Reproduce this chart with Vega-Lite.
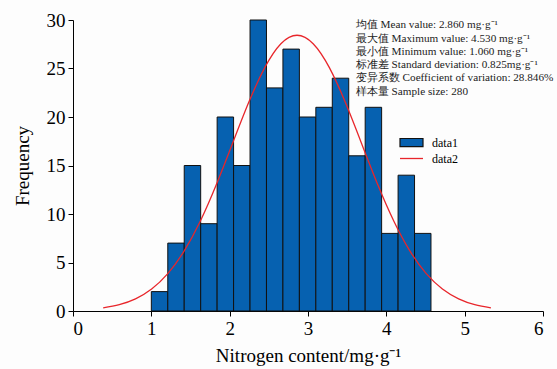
{
  "$schema": "https://vega.github.io/schema/vega-lite/v6.json",
  "width": 470,
  "height": 291,
  "autosize": {"type": "none"},
  "padding": {"left": 73, "top": 20, "right": 14, "bottom": 58},
  "background": "#fdfdfd",
  "config": {
    "view": {"stroke": null},
    "font": "Liberation Serif",
    "axis": {
      "domainColor": "#000000",
      "tickColor": "#000000",
      "grid": false,
      "labelColor": "#000000",
      "titleColor": "#000000",
      "labelFont": "Liberation Serif",
      "titleFont": "Liberation Serif",
      "labelFontSize": 19,
      "titleFontSize": 19,
      "titleFontWeight": "normal",
      "tickSize": 5,
      "domainWidth": 1,
      "tickWidth": 1
    },
    "legend": {
      "labelFont": "Liberation Serif",
      "labelFontSize": 12,
      "labelColor": "#000000"
    }
  },
  "datasets": {
    "bins": [
      {"start": 1.00, "end": 1.21, "count": 2},
      {"start": 1.21, "end": 1.42, "count": 7},
      {"start": 1.42, "end": 1.63, "count": 15},
      {"start": 1.63, "end": 1.84, "count": 9},
      {"start": 1.84, "end": 2.05, "count": 20},
      {"start": 2.05, "end": 2.26, "count": 15},
      {"start": 2.26, "end": 2.47, "count": 30},
      {"start": 2.47, "end": 2.68, "count": 23},
      {"start": 2.68, "end": 2.89, "count": 27},
      {"start": 2.89, "end": 3.10, "count": 20},
      {"start": 3.10, "end": 3.31, "count": 21},
      {"start": 3.31, "end": 3.52, "count": 24},
      {"start": 3.52, "end": 3.73, "count": 16},
      {"start": 3.73, "end": 3.94, "count": 21},
      {"start": 3.94, "end": 4.15, "count": 8},
      {"start": 4.15, "end": 4.36, "count": 14},
      {"start": 4.36, "end": 4.57, "count": 8}
    ],
    "curve": [
      {"x": 0.385, "y": 0.316},
      {"x": 0.591, "y": 0.648},
      {"x": 0.798, "y": 1.249},
      {"x": 1.004, "y": 2.262},
      {"x": 1.210, "y": 3.848},
      {"x": 1.416, "y": 6.149},
      {"x": 1.623, "y": 9.230},
      {"x": 1.829, "y": 13.016},
      {"x": 2.035, "y": 17.244},
      {"x": 2.241, "y": 21.460},
      {"x": 2.448, "y": 25.089},
      {"x": 2.654, "y": 27.556},
      {"x": 2.860, "y": 28.430},
      {"x": 3.066, "y": 27.556},
      {"x": 3.273, "y": 25.089},
      {"x": 3.479, "y": 21.460},
      {"x": 3.685, "y": 17.244},
      {"x": 3.891, "y": 13.016},
      {"x": 4.098, "y": 9.230},
      {"x": 4.304, "y": 6.149},
      {"x": 4.510, "y": 3.848},
      {"x": 4.716, "y": 2.262},
      {"x": 4.923, "y": 1.249},
      {"x": 5.129, "y": 0.648},
      {"x": 5.335, "y": 0.316}
    ],
    "notes": [
      {"x": 3.61, "y": 29.45, "label": "均值 Mean value: 2.860 mg·g⁻¹"},
      {"x": 3.61, "y": 28.08, "label": "最大值 Maximum value: 4.530 mg·g⁻¹"},
      {"x": 3.61, "y": 26.71, "label": "最小值 Minimum value: 1.060 mg·g⁻¹"},
      {"x": 3.61, "y": 25.34, "label": "标准差 Standard deviation: 0.825mg·g⁻¹"},
      {"x": 3.61, "y": 23.97, "label": "变异系数 Coefficient of variation: 28.846%"},
      {"x": 3.61, "y": 22.6, "label": "样本量 Sample size: 280"}
    ]
  },
  "layer": [
    {
      "data": {"name": "bins"},
      "mark": {"type": "rect", "stroke": "#111111", "strokeWidth": 1},
      "encoding": {
        "x": {
          "field": "start", "type": "quantitative",
          "scale": {"domain": [0, 6], "nice": false},
          "axis": {"values": [0, 1, 2, 3, 4, 5, 6], "format": "d", "title": "Nitrogen content/mg·g⁻¹", "titlePadding": 8, "labelPadding": 3}
        },
        "x2": {"field": "end"},
        "y": {
          "field": "count", "type": "quantitative",
          "scale": {"domain": [0, 30], "nice": false},
          "axis": {"values": [0, 5, 10, 15, 20, 25, 30], "title": "Frequency", "titlePadding": 14, "labelPadding": 3}
        },
        "y2": {"datum": 0},
        "fill": {
          "datum": "data1",
          "type": "nominal",
          "scale": {"range": ["#0661b0"]},
          "legend": {
            "title": null,
            "orient": "none",
            "legendX": 326,
            "legendY": 110,
            "symbolType": "M-1,-0.35H1V0.35H-1Z",
            "symbolSize": 529,
            "symbolStrokeColor": "#111111",
            "symbolStrokeWidth": 1.2,
            "labelOffset": 8,
            "padding": 0
          }
        }
      }
    },
    {
      "data": {"name": "curve"},
      "mark": {"type": "line", "interpolate": "natural", "strokeWidth": 1.3},
      "encoding": {
        "x": {"field": "x", "type": "quantitative"},
        "y": {"field": "y", "type": "quantitative"},
        "stroke": {
          "datum": "data2",
          "type": "nominal",
          "scale": {"range": ["#e8262b"]},
          "legend": {
            "title": null,
            "orient": "none",
            "legendX": 326,
            "legendY": 126,
            "symbolType": "stroke",
            "symbolSize": 529,
            "symbolStrokeWidth": 1.3,
            "labelOffset": 8,
            "padding": 0
          }
        }
      }
    },
    {
      "data": {"name": "notes"},
      "mark": {"type": "text", "align": "left", "baseline": "middle", "font": "Liberation Serif", "fontSize": 11.2, "color": "#222222"},
      "encoding": {
        "x": {"field": "x", "type": "quantitative"},
        "y": {"field": "y", "type": "quantitative"},
        "text": {"field": "label"}
      }
    }
  ]
}
